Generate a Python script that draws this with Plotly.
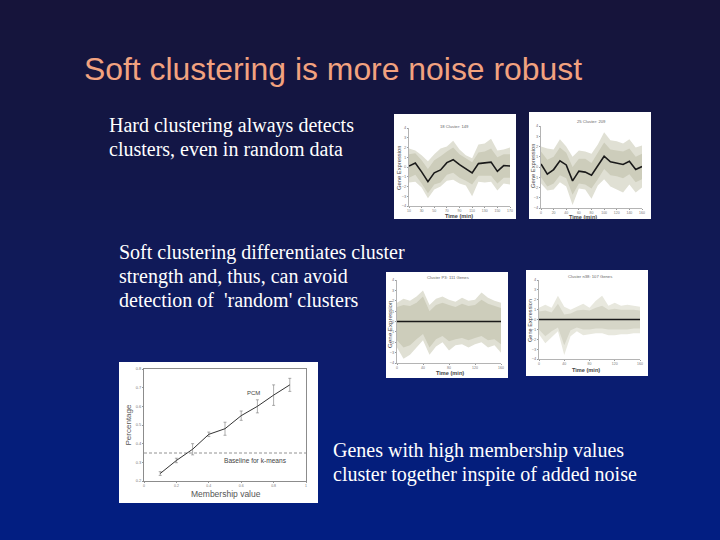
import plotly.graph_objects as go

W, H = 720, 540

# ---- data ----
time_a = [10, 20, 30, 40, 50, 60, 70, 80, 90, 100, 110, 120, 130, 140, 150, 160, 170]
time_b = [0, 10, 20, 30, 40, 50, 60, 70, 80, 90, 100, 110, 120, 130, 140, 150, 160]
time_c = time_b
time_d = time_b

mean_a = [0.1, 0.4, -0.5, -1.5, -0.6, -0.3, 0.45, 0.75, 0.25, -0.15, -0.6, 0.35, 0.4, 0.5, -0.45, 0.15, 0.1]
upper_a = [1.9, 1.7, 1.2, 0.6, 1.3, 1.9, 2.1, 2.7, 1.8, 1.2, 0.9, 2.3, 2.4, 2.9, 1.7, 1.8, 2.0]
lower_a = [-1.6, -1.5, -2.1, -3.2, -2.3, -2.0, -1.4, -1.3, -1.7, -1.9, -3.0, -1.5, -1.6, -1.5, -2.4, -1.7, -1.8]
core_up_a = [1.3, 1.4, 0.7, -0.2, 0.7, 1.1, 1.6, 2.0, 1.3, 0.9, 0.5, 1.5, 1.6, 1.9, 1.0, 1.3, 1.3]
core_lo_a = [-1.1, -0.8, -1.7, -2.7, -1.8, -1.6, -0.8, -0.6, -1.1, -1.4, -1.8, -0.9, -0.9, -0.9, -1.7, -1.1, -1.1]

mean_b = [0.3, -0.7, -0.25, 0.6, 0.2, -1.35, -0.4, -0.5, -0.8, 0.1, 1.05, 0.5, 0.4, 0.25, 0.55, -0.25, 0.05]
upper_b = [2.0, 1.8, 1.7, 2.7, 2.0, 1.0, 1.6, 1.5, 1.3, 2.2, 3.4, 2.6, 2.5, 2.3, 2.7, 1.9, 2.1]
lower_b = [-1.6, -2.3, -2.2, -1.5, -1.9, -3.7, -2.1, -2.2, -3.1, -1.8, -1.2, -1.9, -2.2, -2.5, -1.7, -2.5, -2.0]
core_up_b = [1.5, 0.7, 1.0, 1.9, 1.4, 0.0, 0.8, 0.8, 0.4, 1.4, 2.4, 1.7, 1.6, 1.5, 1.8, 1.0, 1.3]
core_lo_b = [-1.0, -1.9, -1.6, -0.8, -1.1, -2.7, -1.6, -1.7, -2.1, -1.2, -0.2, -0.8, -0.9, -1.1, -0.7, -1.5, -1.2]

mean_c = [0.0, 0.0, 0.0, 0.0, 0.05, 0.0, 0.0, -0.02, 0.02, 0.03, 0.0, 0.0, 0.0, 0.02, 0.0, 0.0, 0.0]
upper_c = [1.8, 2.2, 2.0, 2.4, 3.0, 1.6, 2.2, 2.4, 2.1, 1.9, 2.3, 2.0, 2.1, 2.8, 2.3, 2.0, 1.8]
lower_c = [-2.5, -3.6, -3.2, -2.5, -1.8, -3.2, -2.4, -2.0, -2.8, -2.3, -2.2, -2.5, -2.2, -2.0, -2.5, -2.3, -3.0]
core_up_c = [1.4, 1.6, 1.5, 1.8, 2.4, 1.0, 1.6, 1.8, 1.6, 1.4, 1.7, 1.5, 1.6, 2.1, 1.7, 1.5, 1.3]
core_lo_c = [-1.8, -2.5, -2.3, -1.7, -1.2, -2.5, -1.7, -1.4, -1.9, -1.7, -1.6, -1.8, -1.6, -1.4, -1.8, -1.7, -2.2]

mean_d = [0.0, 0.0, 0.0, 0.02, 0.0, 0.0, 0.0, 0.05, 0.03, 0.0, 0.05, 0.05, 0.0, 0.03, 0.05, 0.0, 0.0]
upper_d = [1.2, 1.5, 1.2, 2.4, 1.3, 1.0, 1.3, 1.6, 1.2, 1.9, 2.4, 1.4, 1.7, 1.4, 1.5, 1.4, 1.3]
lower_d = [-1.5, -2.4, -1.8, -1.2, -3.6, -1.7, -1.2, -1.6, -1.5, -1.4, -1.4, -1.6, -1.6, -1.5, -1.5, -1.4, -1.4]
core_up_d = [0.8, 0.9, 0.7, 1.6, 0.5, 0.6, 0.9, 1.0, 0.9, 1.2, 1.4, 1.0, 1.1, 1.0, 1.0, 1.0, 0.9]
core_lo_d = [-1.0, -1.7, -1.2, -0.8, -2.6, -1.1, -0.8, -1.0, -1.0, -0.9, -0.9, -1.0, -1.0, -1.0, -1.0, -0.9, -0.9]

membership = [0.1, 0.2, 0.3, 0.4, 0.5, 0.6, 0.7, 0.8, 0.9]
percentage = [0.24, 0.31, 0.37, 0.45, 0.48, 0.55, 0.60, 0.66, 0.715]
pct_err = [0.01, 0.012, 0.03, 0.012, 0.035, 0.025, 0.035, 0.055, 0.035]
baseline = [0.35, 0.35]
baseline_x = [0, 1]

y_ticks = [-4, -3, -2, -1, 0, 1, 2, 3, 4]
mem_ticks = [0, 0.2, 0.4, 0.6, 0.8, 1]
pct_ticks = [0.2, 0.3, 0.4, 0.5, 0.6, 0.7, 0.8]

title_text = "Soft clustering is more noise robust"
text_hard = ["Hard clustering always detects", "clusters, even in random data"]
text_soft = ["Soft clustering differentiates cluster", "strength and, thus, can avoid", "detection of  'random' clusters"]
text_genes = ["Genes with high membership values", "cluster together inspite of added noise"]

# ---- helpers working in pixel positions ----
px = lambda v: v / W
py = lambda v: 1 - v / H

shapes = []
STOPS = [(0, (22, 20, 58)), (0.25, (19, 22, 68)), (0.5, (16, 26, 90)), (0.67, (13, 28, 108)),
         (0.8, (5, 30, 122)), (1, (2, 30, 130))]


def grad(t):
    for (a, ca), (b, cb) in zip(STOPS, STOPS[1:]):
        if t <= b:
            f = (t - a) / (b - a)
            return "rgb(%d,%d,%d)" % tuple(round(p + (q - p) * f) for p, q in zip(ca, cb))
    return "rgb(2,30,130)"


N = 54
for i in range(N):
    shapes.append(dict(type="rect", xref="paper", yref="paper", layer="below", x0=0, x1=1,
                       y0=1 - i / N, y1=1 - (i + 1) / N, line_width=0,
                       fillcolor=grad((i + 0.5) / N)))

for l, t, r, b in [(394, 114, 516, 219), (529, 112, 651, 219), (386, 272, 508, 378),
                   (526, 270, 648, 376), (119, 362, 318, 503)]:
    shapes.append(dict(type="rect", xref="paper", yref="paper", layer="below",
                       x0=px(l), x1=px(r), y0=py(b), y1=py(t), line_width=0, fillcolor="white"))

fig = go.Figure()
layout = dict(width=W, height=H, margin=dict(l=0, r=0, t=0, b=0), showlegend=False,
              paper_bgcolor="#101c5c", plot_bgcolor="rgba(0,0,0,0)", shapes=shapes,
              font=dict(family="Liberation Sans"))
annotations = []


def axis_style(domain, ticks, rng, size=4):
    return dict(domain=domain, range=rng, tickvals=ticks, showgrid=False, zeroline=False,
                showline=True, linecolor="#b4b4b4", linewidth=1, ticks="outside", ticklen=1,
                tickcolor="#999999", tickwidth=1, tickfont=dict(size=size, color="#777777"),
                automargin=False)


def gene_panel(n, box, t, mean, up, lo, cup, clo, xticks, name, name_pos, ylab, xlab, light="#e0e0d4", dense="#cdcdbb"):
    l, top, r, bot = box
    xa, ya = ("x%d" % n, "y%d" % n)
    for hi, low, col in [(up, lo, light), (cup, clo, dense)]:
        fig.add_trace(go.Scatter(x=list(t) + list(t)[::-1], y=hi + low[::-1], mode="lines", fill="toself",
                                 fillcolor=col, line=dict(width=0), xaxis=xa, yaxis=ya, hoverinfo="skip"))
    fig.add_trace(go.Scatter(x=t, y=mean, mode="lines", line=dict(color="#1a1a1a", width=1.6), xaxis=xa, yaxis=ya))
    layout["xaxis%d" % n] = dict(axis_style([px(l), px(r)], xticks, [t[0], t[-1]], size=3.5), anchor=ya)
    layout["yaxis%d" % n] = dict(axis_style([py(bot), py(top)], y_ticks, [-4, 4]), anchor=xa)
    annotations.append(dict(xref="paper", yref="paper", x=px(name_pos[0]), y=py(name_pos[1]), text=name, showarrow=False,
                            font=dict(size=4.2, color="#666666"), xanchor="center", yanchor="middle"))
    annotations.append(dict(xref="paper", yref="paper", x=px(ylab[0]), y=py(ylab[1]), text="Gene Expression",
                            textangle=-90, showarrow=False, font=dict(size=ylab[2], color="#444444"),
                            xanchor="center", yanchor="middle"))
    annotations.append(dict(xref="paper", yref="paper", x=px(xlab[0]), y=py(xlab[1]), text="<b>Time (min)</b>",
                            showarrow=False, font=dict(size=5.6, color="#444444"), xanchor="center", yanchor="middle"))


gene_panel(1, (409, 128, 510, 206), time_a, mean_a, upper_a, lower_a, core_up_a, core_lo_a,
           [10, 30, 50, 70, 90, 110, 130, 150, 170], "18 Cluster: 149", (454, 126), (399, 168, 5.8), (459, 215.5))
gene_panel(2, (541, 126, 642, 208), time_b, mean_b, upper_b, lower_b, core_up_b, core_lo_b,
           [0, 20, 40, 60, 80, 100, 120, 140, 160], "25 Cluster: 209", (591, 121), (533, 166, 5.8), (583, 216.5))
gene_panel(3, (397, 280, 501, 363), time_c, mean_c, upper_c, lower_c, core_up_c, core_lo_c,
           [0, 40, 80, 120, 160], "Cluster P3: 111 Genes", (448, 277), (389, 324, 6.2), (450, 372.5))
gene_panel(4, (539, 280, 640, 359), time_d, mean_d, upper_d, lower_d, core_up_d, core_lo_d,
           [0, 40, 80, 120, 160], "Cluster n38: 107 Genes", (590, 276), (530, 321, 5.6), (586, 369.5),
           light="#e8e8de", dense="#d6d6c8")

# membership panel
fig.add_trace(go.Scatter(x=baseline_x, y=baseline, mode="lines", line=dict(color="#777777", width=0.8, dash="3px,2px"),
                         xaxis="x5", yaxis="y5"))
fig.add_trace(go.Scatter(x=membership, y=percentage, mode="lines", line=dict(color="#333333", width=1),
                         error_y=dict(type="data", array=pct_err, thickness=0.6, width=1.5, color="#777777"),
                         xaxis="x5", yaxis="y5"))
layout["xaxis5"] = dict(axis_style([px(144), px(306)], mem_ticks, [0, 1], size=3.5), anchor="y5", mirror=True,
                        linecolor="#8c8c8c")
layout["yaxis5"] = dict(axis_style([py(481), py(369)], pct_ticks, [0.2, 0.8]), anchor="x5", mirror=True,
                        linecolor="#8c8c8c",
                        title=dict(text="Percentage", font=dict(size=8, color="#555555"), standoff=2))
annotations.append(dict(xref="paper", yref="paper", x=px(226), y=py(494), text="Membership value", showarrow=False,
                        xanchor="center", yanchor="middle", font=dict(size=8.5, color="#555555")))
annotations.append(dict(x=0.675, y=0.673, xref="x5", yref="y5", text="PCM", showarrow=False,
                        xanchor="center", yanchor="middle", font=dict(size=6, color="#444444")))
annotations.append(dict(x=0.69, y=0.311, xref="x5", yref="y5", text="Baseline for k-means", showarrow=False,
                        xanchor="center", yanchor="middle", font=dict(size=6.6, color="#444444")))

# slide text
annotations.append(dict(xref="paper", yref="paper", x=px(82), y=py(69), text=title_text, showarrow=False,
                        xanchor="left", yanchor="middle",
                        font=dict(family="Liberation Sans", size=31.9, color="#f2a27f")))


def body(lines, x, ys):
    for s, y in zip(lines, ys):
        annotations.append(dict(xref="paper", yref="paper", x=px(x - 2), y=py(y), text=s, showarrow=False,
                                xanchor="left", yanchor="middle",
                                font=dict(family="Liberation Serif", size=20, color="white")))


body(text_hard, 109, [125, 149])
body(text_soft, 119, [252, 276, 300])
body(text_genes, 333, [450, 474])

layout["annotations"] = annotations
fig.update_layout(**layout)
fig.write_html("out.html", config={"displayModeBar": False},
               post_script="document.body.style.margin='0';document.body.style.overflow='hidden';")
